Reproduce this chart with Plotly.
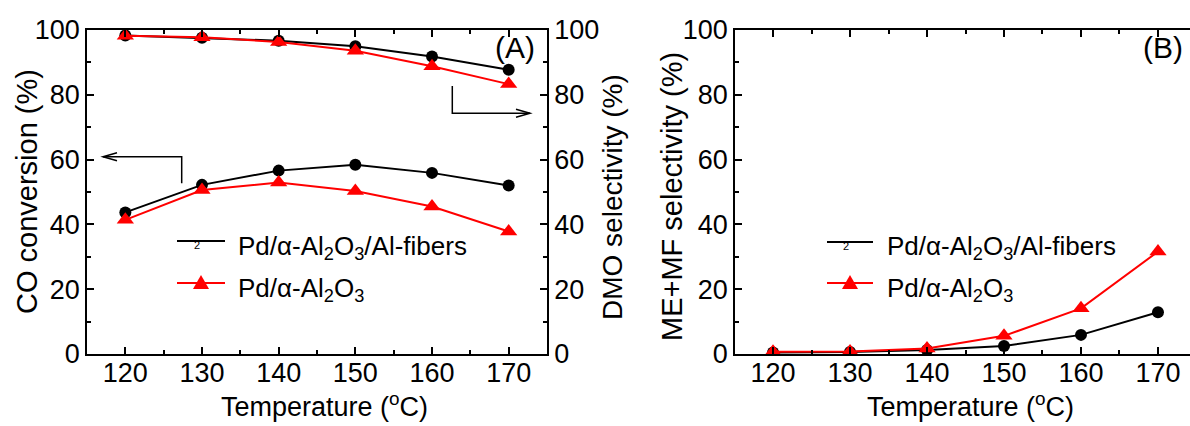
import plotly.graph_objects as go

# ---------------- data ----------------
temperature = [120, 130, 140, 150, 160, 170]
co_conv_fibers = [43.7, 52.2, 56.6, 58.4, 55.9, 52.0]
co_conv_powder = [41.4, 50.6, 52.9, 50.3, 45.5, 37.8]
dmo_sel_fibers = [98.3, 97.6, 96.7, 95.0, 91.8, 87.7]
dmo_sel_powder = [98.2, 97.8, 96.3, 93.6, 88.8, 83.3]
mef_sel_fibers = [0.5, 0.6, 1.2, 2.5, 5.9, 12.9]
mef_sel_powder = [0.7, 0.8, 1.7, 5.6, 14.1, 31.6]
name_fibers = "Pd/α-Al<sub>2</sub>O<sub>3</sub>/Al-fibers"
name_powder = "Pd/α-Al<sub>2</sub>O<sub>3</sub>"

W, H = 1190, 426
FONT = "Liberation Sans, Arial, sans-serif"
BLACK, RED = "#000000", "#ff0000"


def px(x):
    return x / W


def py(y):
    return 1 - y / H


fig = go.Figure()

line_b = dict(color=BLACK, width=2)
line_r = dict(color=RED, width=2)
mk_b = dict(symbol="circle", size=12, color=BLACK)
mk_r = dict(symbol="triangle-up", size=15, color=RED)

# Panel A
fig.add_trace(go.Scatter(x=temperature, y=co_conv_fibers, mode="lines+markers",
                         line=line_b, marker=mk_b, xaxis="x", yaxis="y", showlegend=False))
fig.add_trace(go.Scatter(x=temperature, y=co_conv_powder, mode="lines+markers",
                         line=line_r, marker=mk_r, xaxis="x", yaxis="y", showlegend=False))
fig.add_trace(go.Scatter(x=temperature, y=dmo_sel_fibers, mode="lines+markers",
                         line=line_b, marker=mk_b, xaxis="x", yaxis="y2", showlegend=False))
fig.add_trace(go.Scatter(x=temperature, y=dmo_sel_powder, mode="lines+markers",
                         line=line_r, marker=mk_r, xaxis="x", yaxis="y2", showlegend=False))
# Panel B
fig.add_trace(go.Scatter(x=temperature, y=mef_sel_fibers, mode="lines+markers",
                         line=line_b, marker=mk_b, xaxis="x2", yaxis="y3", showlegend=False))
fig.add_trace(go.Scatter(x=temperature, y=mef_sel_powder, mode="lines+markers",
                         line=line_r, marker=mk_r, xaxis="x2", yaxis="y3", showlegend=False))

ydom = [py(354), py(30)]
tickfont = dict(family=FONT, size=27, color=BLACK)
common = dict(showline=True, linecolor=BLACK, linewidth=1.5, ticks="inside",
              ticklen=7, tickwidth=1.5, tickcolor=BLACK, showgrid=False,
              zeroline=False, tickfont=tickfont, automargin=False)

xcommon = dict(common, tick0=120, dtick=10, mirror="ticks", ticklabelstandoff=-6,
               minor=dict(ticks="inside", ticklen=4, tickwidth=1.5, tickcolor=BLACK,
                          dtick=5, tick0=115, showgrid=False))
ycommon = dict(common, range=[0, 100], tick0=0, dtick=20,
               minor=dict(ticks="inside", ticklen=4, tickwidth=1.5, tickcolor=BLACK,
                          dtick=10, tick0=0, showgrid=False))

fig.update_layout(
    width=W, height=H, autosize=False,
    margin=dict(l=0, r=0, t=0, b=0, pad=0, autoexpand=False),
    paper_bgcolor="white", plot_bgcolor="white",
    font=dict(family=FONT, size=26, color=BLACK),
    xaxis=dict(xcommon, domain=[px(87), px(547)], range=[115, 175], anchor="y"),
    yaxis=dict(ycommon, domain=ydom, anchor="x"),
    yaxis2=dict(ycommon, overlaying="y", side="right", anchor="x"),
    xaxis2=dict(xcommon, domain=[px(735), 1.0], range=[115.06, 174.16], anchor="y3"),
    yaxis3=dict(ycommon, domain=ydom, anchor="x2"),
)

ann = []


def text(x, y, s, size=26, angle=0, xanchor="center", yanchor="middle"):
    ann.append(dict(x=px(x), y=py(y), xref="paper", yref="paper", text=s,
                    showarrow=False, textangle=angle, xanchor=xanchor, yanchor=yanchor,
                    font=dict(family=FONT, size=size, color=BLACK)))


# axis titles
text(27, 192, "CO conversion (%)", size=29, angle=-90)
text(612, 197, "DMO selectivity (%)", size=28, angle=-90)
text(672, 197, "ME+MF selectivity (%)", size=29, angle=-90)
text(325, 405, "Temperature (<sup>o</sup>C)", size=27)
text(970, 405, "Temperature (<sup>o</sup>C)", size=27)
# panel labels
text(515, 48, "(A)", size=30)
text(1163, 47, "(B)", size=30)

shapes = []

# legends (drawn manually)
legend_pos = [(177, 225, 236, 241, 283), (827, 873, 885, 242, 283)]
for x0, x1, xt, yb, yr in legend_pos:
    shapes.append(dict(type="line", xref="paper", yref="paper", x0=px(x0), x1=px(x1),
                       y0=py(yb), y1=py(yb), line=dict(color=BLACK, width=2)))
    shapes.append(dict(type="line", xref="paper", yref="paper", x0=px(x0), x1=px(x1),
                       y0=py(yr), y1=py(yr), line=dict(color=RED, width=2)))
    cx = (x0 + x1) / 2
    shapes.append(dict(type="path", xref="paper", yref="paper",
                       path=f"M {px(cx-8)},{py(yr+6)} L {px(cx+8)},{py(yr+6)} L {px(cx)},{py(yr-8)} Z",
                       fillcolor=RED, line=dict(color=RED, width=0)))
    text(cx - 4, yb + 4, "2", size=11)
    text(xt, yb + 6, name_fibers, size=26, xanchor="left")
    text(xt, yr + 6, name_powder, size=26, xanchor="left")

# arrows in panel A
arrow_color = dict(color=BLACK, width=1.5)
# left-pointing arrow (CO conversion -> left axis)
la_x, la_y0, la_y1, la_tip = 181.7, 183.3, 156.7, 103
shapes.append(dict(type="path", xref="paper", yref="paper",
                   path=f"M {px(la_x)},{py(la_y0)} L {px(la_x)},{py(la_y1)} L {px(la_tip)},{py(la_y1)}",
                   line=arrow_color))
shapes.append(dict(type="path", xref="paper", yref="paper",
                   path=f"M {px(la_tip+14)},{py(la_y1-4)} L {px(la_tip)},{py(la_y1)} L {px(la_tip+14)},{py(la_y1+4)}",
                   line=arrow_color))
# right-pointing arrow (DMO selectivity -> right axis)
ra_x, ra_y0, ra_y1, ra_tip = 452.3, 86, 113.3, 530
shapes.append(dict(type="path", xref="paper", yref="paper",
                   path=f"M {px(ra_x)},{py(ra_y0)} L {px(ra_x)},{py(ra_y1)} L {px(ra_tip)},{py(ra_y1)}",
                   line=arrow_color))
shapes.append(dict(type="path", xref="paper", yref="paper",
                   path=f"M {px(ra_tip-14)},{py(ra_y1-4)} L {px(ra_tip)},{py(ra_y1)} L {px(ra_tip-14)},{py(ra_y1+4)}",
                   line=arrow_color))

fig.update_layout(annotations=ann, shapes=shapes)
fig.write_html("out.html", config={"responsive": False, "displayModeBar": False},
               post_script="document.body.style.margin='0';document.body.style.overflow='hidden';")
